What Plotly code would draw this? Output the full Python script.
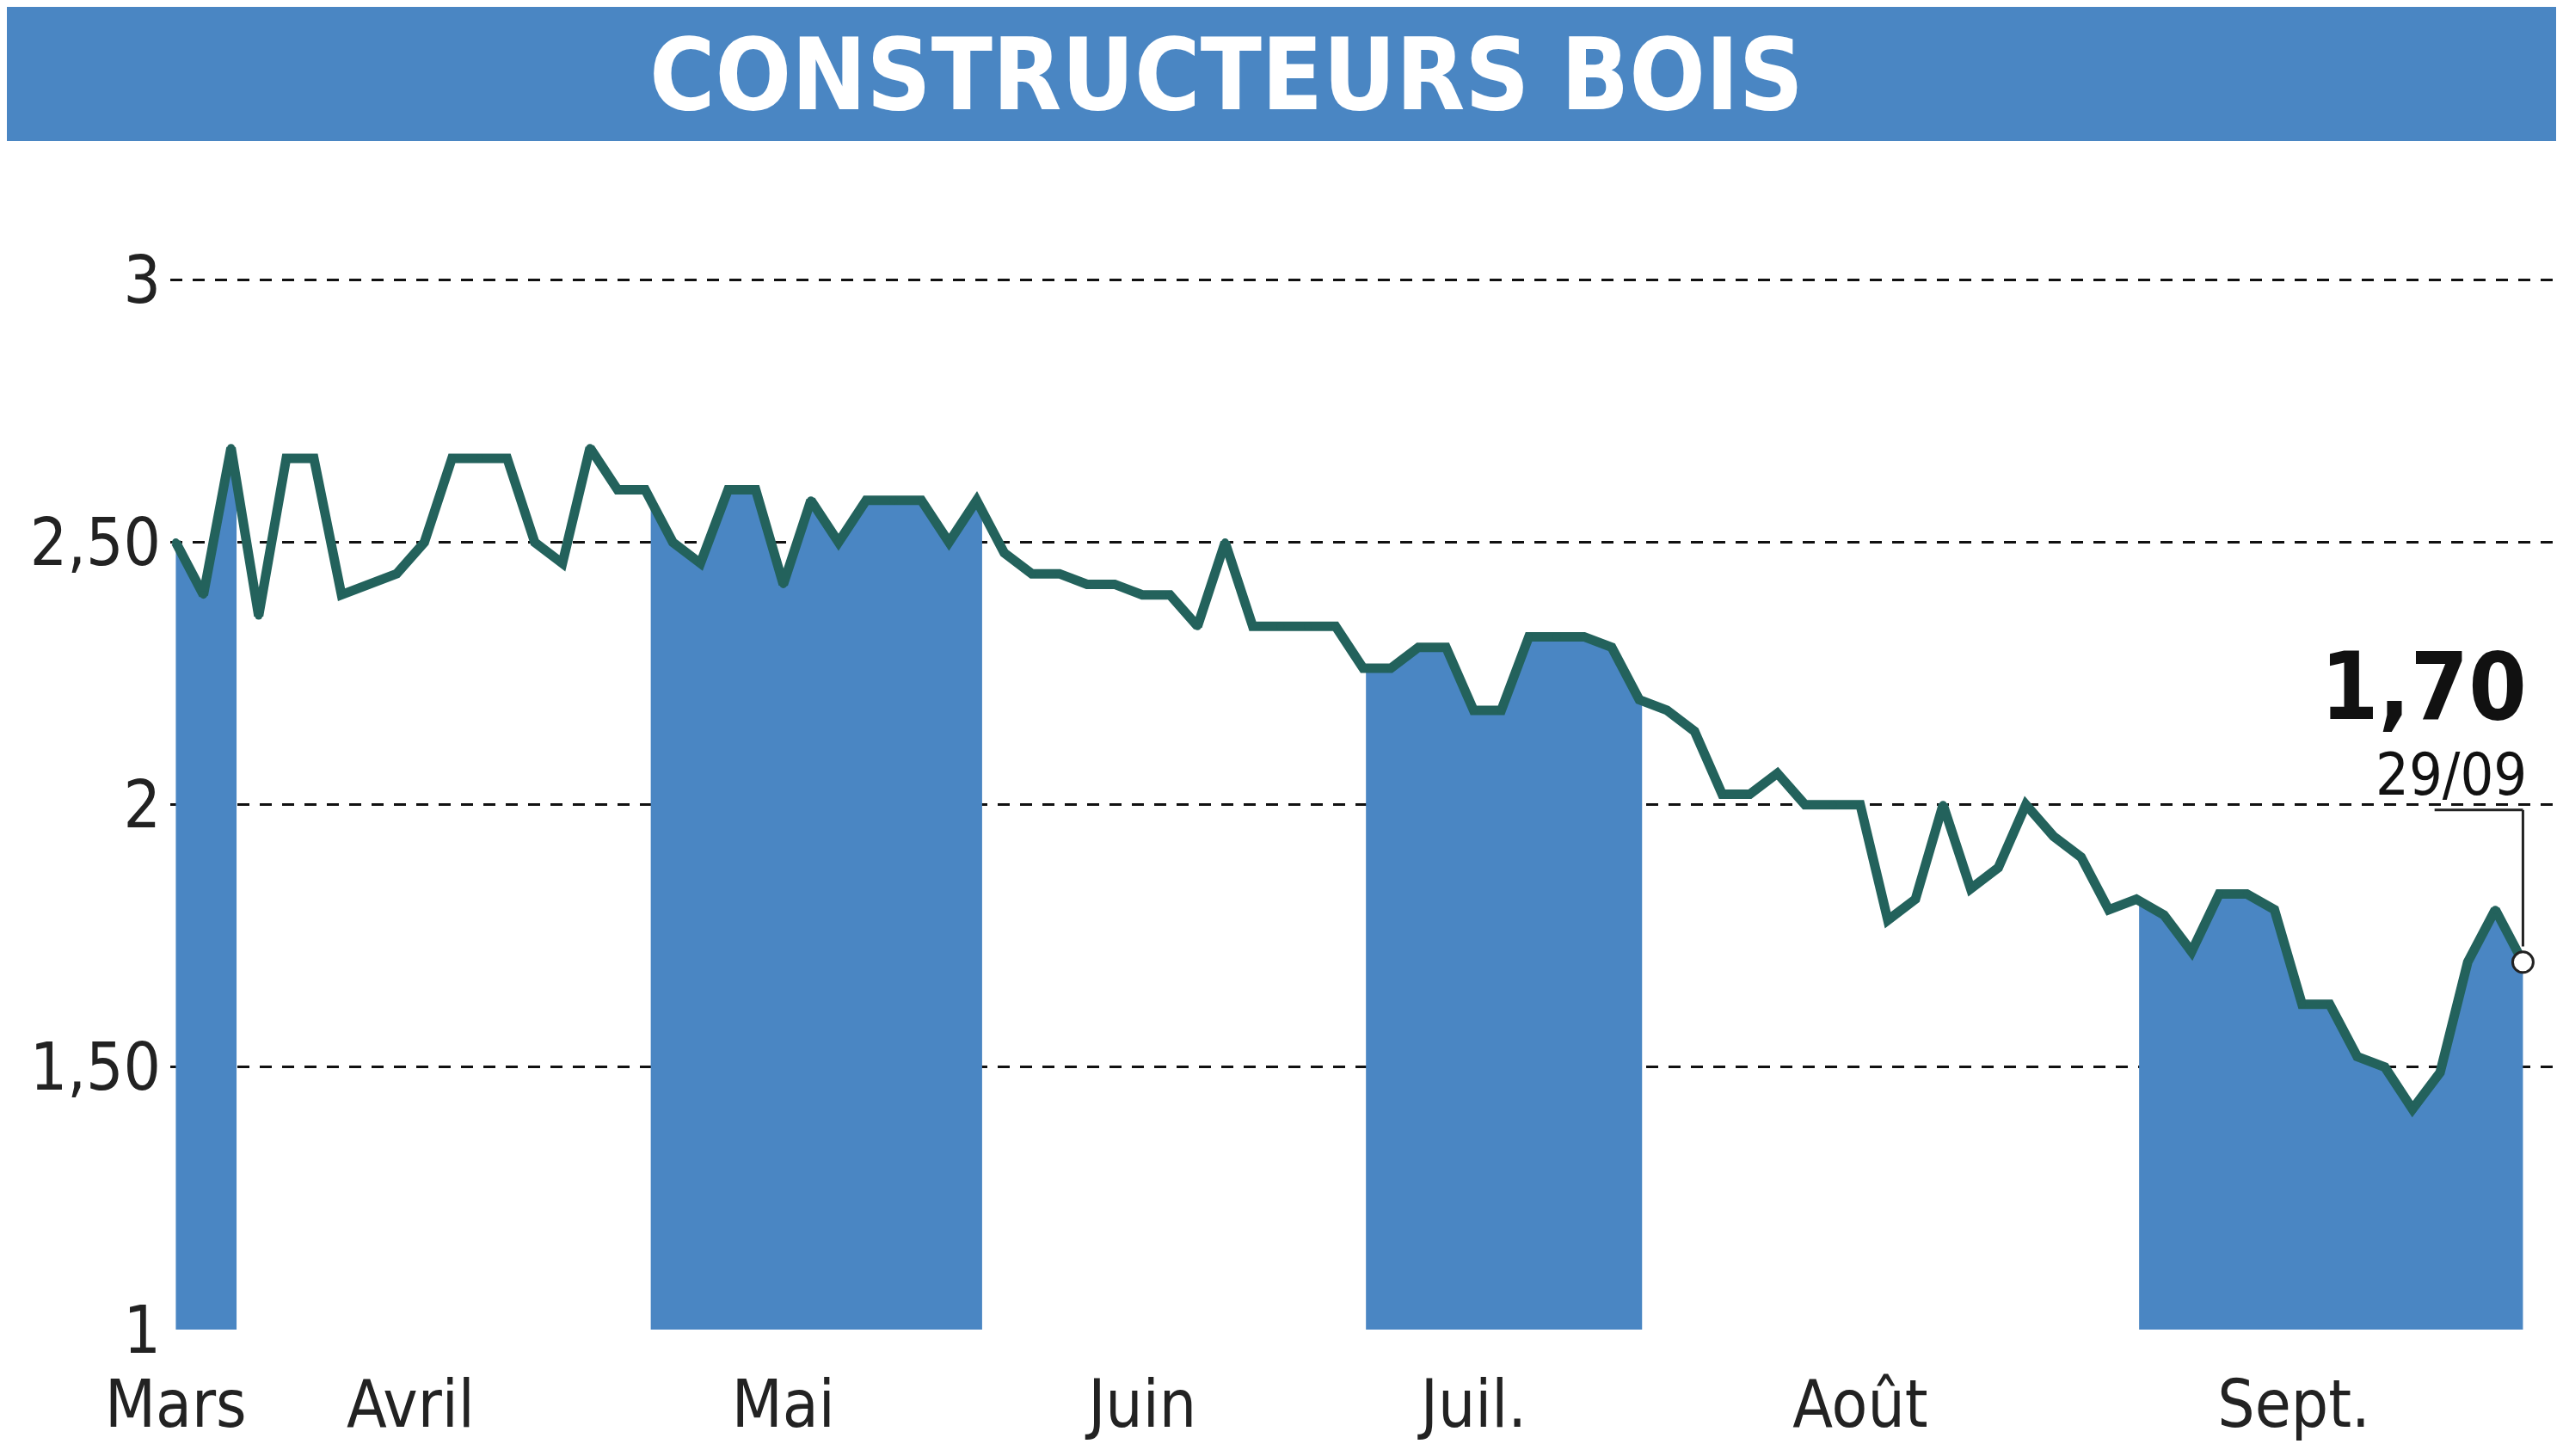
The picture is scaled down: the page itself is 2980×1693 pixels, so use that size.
import numpy as np
import plotly.graph_objects as go

prices = [2.50,2.40,2.68,2.36,2.66,2.66,2.40,2.42,2.44,2.50,2.66,2.66,2.66,2.50,2.46,2.68,2.60,2.60,
          2.50,2.46,2.60,2.60,2.42,2.58,2.50,2.58,2.58,2.58,2.50,2.58,2.48,2.44,2.44,2.42,2.42,2.40,
          2.40,2.34,2.50,2.34,2.34,2.34,2.34,2.26,2.26,2.30,2.30,2.18,2.18,2.32,2.32,2.32,2.30,2.20,
          2.18,2.14,2.02,2.02,2.06,2.00,2.00,2.00,1.78,1.82,2.00,1.84,1.88,2.00,1.94,1.90,1.80,1.82,
          1.79,1.72,1.83,1.83,1.80,1.62,1.62,1.52,1.50,1.42,1.49,1.70,1.80,1.70]
month_labels = ["Mars","Avril","Mai","Juin","Juil.","Août","Sept."]
month_pos = [0, 8.5, 22, 35, 47, 61, 76.7]
bands = [(0, 2.2), (17.2, 29.2), (43.1, 53.1), (71.1, 85)]
y_ticks = [1, 1.5, 2, 2.5, 3]
y_tick_text = ["1", "1,50", "2", "2,50", "3"]
last_label = "1,70"
last_date = "29/09"

x = np.arange(len(prices))
fig = go.Figure()
BLUE = "#4a86c3"
LINE = "#23625c"
FONT = "DejaVu Sans Condensed"
for a, b in bands:
    xs = [a] + [i for i in x if a < i < b] + [b]
    ys = np.interp(xs, x, prices)
    fig.add_trace(go.Scatter(x=xs, y=ys, fill="tozeroy", mode="none", fillcolor=BLUE,
                             showlegend=False, hoverinfo="skip"))
fig.add_trace(go.Scatter(x=x, y=prices, mode="lines+markers", line=dict(color=LINE, width=11),
                         marker=dict(size=9, color=LINE), showlegend=False))
fig.add_trace(go.Scatter(x=[x[-1]], y=[prices[-1]], mode="markers",
                         marker=dict(size=24, color="white", line=dict(color="#222", width=3)),
                         showlegend=False))
fig.add_shape(type="line", xref="x", yref="y", x0=x[-1], x1=x[-1], y0=prices[-1]+0.03, y1=1.99,
              line=dict(color="#222", width=3))
fig.add_shape(type="line", xref="x", yref="y", x0=x[-1], x1=x[-1]-3.2, y0=1.99, y1=1.99,
              line=dict(color="#222", width=3))
fig.add_annotation(x=x[-1]+0.2, y=2.12, xref="x", yref="y", text="<b>"+last_label+"</b>", showarrow=False,
                   xanchor="right", yanchor="bottom", font=dict(size=108, color="#111", family=FONT))
fig.add_annotation(x=x[-1]+0.2, y=1.99, xref="x", yref="y", text=last_date, showarrow=False,
                   xanchor="right", yanchor="bottom", font=dict(size=68, color="#111", family=FONT))
# title banner
fig.add_shape(type="rect", xref="paper", yref="paper", x0=-0.07, x1=1, y0=1.011, y1=1.16,
              fillcolor=BLUE, line_width=0, layer="below")
fig.add_annotation(x=0.44, y=1.068, xref="paper", yref="paper", text="<b>CONSTRUCTEURS BOIS</b>",
                   showarrow=False, yanchor="middle", font=dict(size=116, color="white", family=FONT))

fig.update_layout(width=2980, height=1693, margin=dict(l=190, r=0, t=171, b=155),
                  plot_bgcolor="white", paper_bgcolor="white",
                  font=dict(family=FONT, color="#222", size=72))
fig.update_xaxes(range=[-0.2, 86.7], tickvals=month_pos, ticktext=month_labels, showgrid=False,
                 zeroline=False, showline=False, ticks="", tickfont=dict(size=76), ticklabelstandoff=36)
fig.update_yaxes(range=[1, 3.24], tickvals=y_ticks, ticktext=y_tick_text, showgrid=True,
                 gridcolor="#111", griddash="14px,12px", gridwidth=3, zeroline=False, ticks="",
                 tickfont=dict(size=76), ticklabelstandoff=10)
fig.write_html("out.html")
